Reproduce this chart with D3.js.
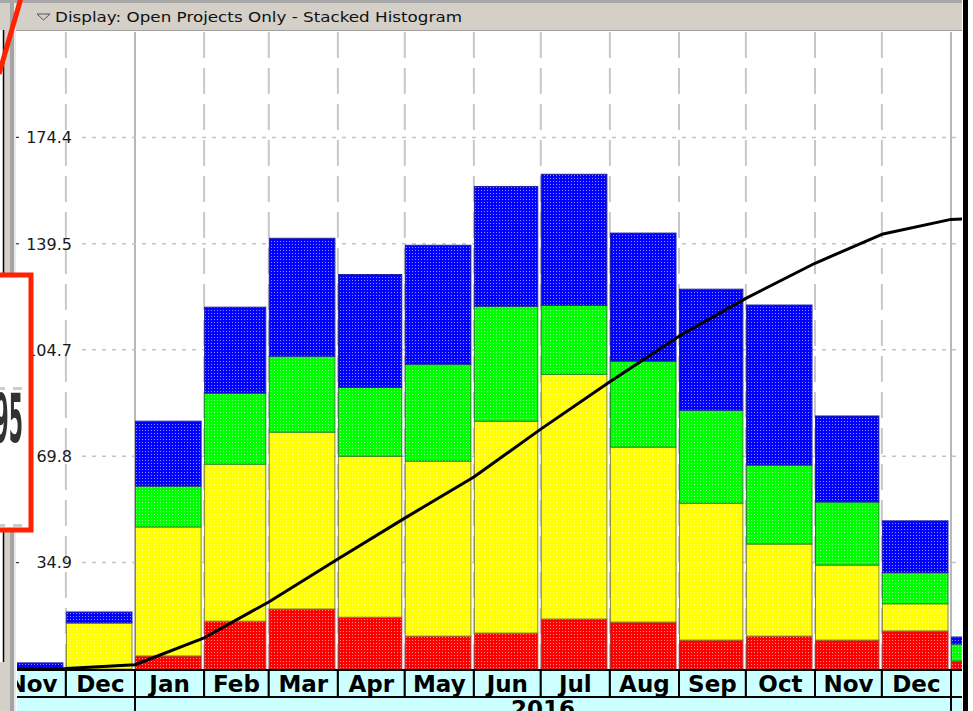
<!DOCTYPE html>
<html><head><meta charset="utf-8">
<script src="https://cdn.jsdelivr.net/npm/d3@7"></script>
<style>html,body{margin:0;padding:0;background:#fff;overflow:hidden}</style>
</head><body>
<script>
// ---- data ----
const months = ["2015-11","2015-12","2016-01","2016-02","2016-03","2016-04","2016-05","2016-06","2016-07","2016-08","2016-09","2016-10","2016-11","2016-12","2017-01"];
const monthLabels = ["Nov","Dec","Jan","Feb","Mar","Apr","May","Jun","Jul","Aug","Sep","Oct","Nov","Dec","Jan"];
const red    = [0, 0, 4.3, 15.7, 19.7, 17.0, 10.8, 11.8, 16.4, 15.4, 9.5, 10.8, 9.5, 12.5, 2.6];
const yellow = [0, 15.1, 42.3, 51.5, 58.0, 52.8, 57.4, 69.5, 80.3, 57.4, 44.9, 30.2, 24.6, 8.9, 0];
const green  = [0, 0, 13.4, 23.3, 24.9, 22.6, 31.8, 37.7, 22.6, 28.2, 30.5, 25.9, 20.7, 10.2, 5.6];
const blue   = [2.0, 3.6, 21.3, 28.2, 38.7, 37.0, 39.0, 39.3, 43.0, 42.0, 39.7, 52.5, 28.2, 17.0, 2.3];
const lineMonths = ["2015-11","2015-12","2016-01","2016-02","2016-03","2016-04","2016-05","2016-06","2016-07","2016-08","2016-09","2016-10","2016-11","2016-12","2017-01","2017-02"];
const cumulative = [0, 0.2, 1.4, 10.2, 22.0, 36.1, 49.5, 63.0, 78.7, 94.2, 109.2, 121.6, 133.1, 142.6, 147.5, 148.3];
const yTicks = [34.9, 69.8, 104.7, 139.5, 174.4];
const yTickLabels = ["34.9", "69.8", "104.7", "139.5", "174.4"];
const years = ["2015", "2016", "2017"];
const titleText = "Display: Open Projects Only - Stacked Histogram";

const seriesKeys = ["red", "yellow", "green", "blue"];
const seriesColors = {red: "#ff0000", yellow: "#ffff00", green: "#00ff00", blue: "#0000ff"};
const seriesStroke = {red: "#b03030", yellow: "#8a8a30", green: "#208a20", blue: "#2020a0"};

const parse = d3.utcParse("%Y-%m");
const W = 973, H = 711;
const plotL = 17, plotR = 962, plotT = 31, base = 669;

const svg = d3.select("body").append("svg").attr("width", W).attr("height", H)
  .style("font-family", "'DejaVu Sans', sans-serif");
const defs = svg.append("defs");
seriesKeys.forEach(k => {
  const p = defs.append("pattern").attr("id", "pat-" + k).attr("patternUnits", "userSpaceOnUse")
    .attr("width", 3).attr("height", 3);
  p.append("rect").attr("width", 3).attr("height", 3).attr("fill", seriesColors[k]);
  p.append("rect").attr("x", 1).attr("y", 1).attr("width", 1).attr("height", 1)
    .attr("fill", "#fff").attr("opacity", 0.55);
});
defs.append("clipPath").attr("id", "plotclip").append("rect")
  .attr("x", plotL).attr("y", plotT).attr("width", plotR - plotL).attr("height", H - plotT);
defs.append("filter").attr("id", "blur").append("feGaussianBlur").attr("stdDeviation", 0.7);

// scales
const x = d3.scaleUtc().domain([parse("2016-01"), parse("2017-01")]).range([135, 951]);
const y = d3.scaleLinear().domain([0, 209.3]).range([base, plotT]);
const nextMonth = d => d3.utcMonth.offset(d, 1);

// background
svg.append("rect").attr("width", W).attr("height", H).attr("fill", "#fff");

const g = svg.append("g").attr("clip-path", "url(#plotclip)");

// vertical grid at month boundaries
const bounds = lineMonths.map(parse);
g.selectAll("line.vg").data(bounds).join("line")
  .attr("x1", d => x(d)).attr("x2", d => x(d))
  .attr("y1", plotT + 1).attr("y2", base)
  .attr("stroke", d => d.getUTCMonth() === 0 ? "#a0a0a0" : "#c8c8c8")
  .attr("stroke-width", d => d.getUTCMonth() === 0 ? 1.5 : 2)
  .attr("stroke-dasharray", d => d.getUTCMonth() === 0 ? null : "26,10");

// horizontal grid
g.selectAll("line.hg").data(yTicks).join("line")
  .attr("x1", 82).attr("x2", plotR)
  .attr("y1", d => y(d)).attr("y2", d => y(d))
  .attr("stroke", "#c4c4c4").attr("stroke-width", 1.5).attr("stroke-dasharray", "4,6");

// stacked bars
const table = months.map((m, i) => ({date: parse(m), red: red[i], yellow: yellow[i], green: green[i], blue: blue[i]}));
const stack = d3.stack().keys(seriesKeys)(table);
stack.forEach(layer => {
  g.selectAll(null).data(layer.filter(d => d[1] - d[0] > 0)).join("rect")
    .attr("x", d => x(d.data.date) + 0.5)
    .attr("width", d => x(nextMonth(d.data.date)) - x(d.data.date) - 3.5)
    .attr("y", d => y(d[1]))
    .attr("height", d => y(d[0]) - y(d[1]))
    .attr("fill", "url(#pat-" + layer.key + ")")
    .attr("stroke", seriesStroke[layer.key]).attr("stroke-width", 1);
});

// cumulative line
const lineGen = d3.line().x(d => x(d.date)).y(d => y(d.v));
g.append("path")
  .datum(lineMonths.map((m, i) => ({date: parse(m), v: cumulative[i]})))
  .attr("d", lineGen).attr("fill", "none").attr("stroke", "#000").attr("stroke-width", 3)
  .attr("stroke-linejoin", "round");

// x axis band: months
const mDates = months.map(parse);
g.selectAll("rect.mcell").data(mDates).join("rect")
  .attr("x", d => x(d)).attr("width", d => x(nextMonth(d)) - x(d))
  .attr("y", 670).attr("height", 27)
  .attr("fill", "#ccffff").attr("stroke", "#000").attr("stroke-width", 2);
g.selectAll("text.mlab").data(mDates).join("text")
  .attr("x", d => (x(d) + x(nextMonth(d))) / 2).attr("y", 692)
  .attr("text-anchor", "middle").attr("font-size", 23).attr("font-weight", "bold")
  .attr("fill", "#000").text((d, i) => monthLabels[i]);
// years row
const yDates = years.map(s => d3.utcParse("%Y")(s));
g.selectAll("rect.ycell").data(yDates).join("rect")
  .attr("x", d => x(d)).attr("width", d => x(d3.utcYear.offset(d, 1)) - x(d))
  .attr("y", 697).attr("height", 30)
  .attr("fill", "#ccffff").attr("stroke", "#000").attr("stroke-width", 2);
const yearLab = yDates.map((d, i) => ({cx: (x(d) + x(d3.utcYear.offset(d, 1))) / 2, t: years[i]}))
  .filter(d => d.cx > plotL && d.cx < plotR);
g.selectAll("text.ylab").data(yearLab).join("text")
  .attr("x", d => d.cx).attr("y", 717)
  .attr("text-anchor", "middle").attr("font-size", 23).attr("font-weight", "bold")
  .attr("fill", "#000").text(d => d.t);

// y labels
svg.selectAll("text.ytl").data(yTicks).join("text")
  .attr("x", 72).attr("y", d => y(d)).attr("dy", "0.36em")
  .attr("text-anchor", "end").attr("font-size", 16).attr("fill", "#1a1a1a")
  .text((d, i) => yTickLabels[i]);
svg.selectAll("line.ytk").data(yTicks).join("line")
  .attr("x1", 14).attr("x2", 19).attr("y1", d => y(d)).attr("y2", d => y(d))
  .attr("stroke", "#333").attr("stroke-width", 1.2);

// left window frame
svg.append("rect").attr("x", 0).attr("y", 0).attr("width", 14).attr("height", H).attr("fill", "#d4d0c8");
svg.append("rect").attr("x", 0).attr("y", 30).attr("width", 3).attr("height", 632).attr("fill", "#fff");
svg.append("line").attr("x1", 3.5).attr("x2", 3.5).attr("y1", 30).attr("y2", 662).attr("stroke", "#000").attr("stroke-width", 1.5);
svg.append("rect").attr("x", 10).attr("y", 0).attr("width", 4).attr("height", H).attr("fill", "#a4a4a4");
svg.append("rect").attr("x", 14).attr("y", 0).attr("width", 2).attr("height", H).attr("fill", "#e8e8e8");

// title bar
svg.append("rect").attr("x", 0).attr("y", 0).attr("width", plotR).attr("height", 3).attr("fill", "#a8a8a8");
svg.append("rect").attr("x", 16).attr("y", 3).attr("width", plotR - 16).attr("height", 27).attr("fill", "#d4d0c8");
svg.append("line").attr("x1", 16).attr("x2", plotR).attr("y1", 30.5).attr("y2", 30.5).attr("stroke", "#a0a0a0");
svg.append("path").attr("d", "M37,14 H50 L43.5,20 Z").attr("fill", "none").attr("stroke", "#555").attr("stroke-width", 1);
svg.append("text").attr("x", 55).attr("y", 22).attr("font-size", 14).attr("fill", "#111")
  .attr("textLength", 407).attr("lengthAdjust", "spacingAndGlyphs").text(titleText);

// right frame
svg.append("rect").attr("x", 963).attr("y", 0).attr("width", 5).attr("height", H).attr("fill", "#000");
svg.append("rect").attr("x", 968).attr("y", 0).attr("width", 5).attr("height", H).attr("fill", "#fff");

// red annotation
svg.append("line").attr("x1", 21).attr("y1", -2).attr("x2", -1).attr("y2", 74)
  .attr("stroke", "#ff2200").attr("stroke-width", 5);
svg.append("rect").attr("x", -10).attr("y", 275).attr("width", 41).attr("height", 255)
  .attr("fill", "#fff").attr("stroke", "#ff2200").attr("stroke-width", 5);
svg.append("rect").attr("x", 0).attr("y", 387).attr("width", 5).attr("height", 3).attr("fill", "#ccc");
svg.append("rect").attr("x", 13).attr("y", 387).attr("width", 9).attr("height", 3).attr("fill", "#ccc");
svg.append("rect").attr("x", 0).attr("y", 524).attr("width", 5).attr("height", 3).attr("fill", "#ccc");
svg.append("rect").attr("x", 13).attr("y", 524).attr("width", 9).attr("height", 3).attr("fill", "#ccc");
svg.append("text").attr("transform", "translate(23,442) scale(0.3,1)")
  .attr("text-anchor", "end").attr("font-size", 68).attr("font-weight", "bold").attr("fill", "#333")
  .attr("filter", "url(#blur)").text("95");
</script>
</body></html>
